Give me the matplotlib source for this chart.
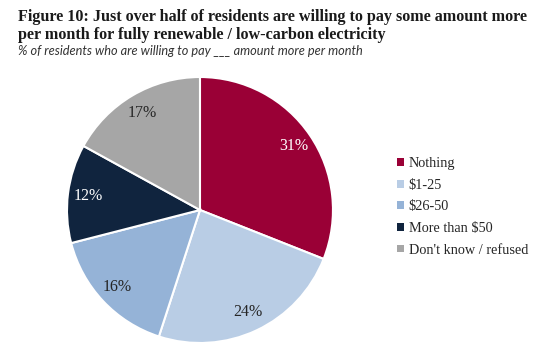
import matplotlib
matplotlib.use("Agg")
import matplotlib.pyplot as plt

labels = ["Nothing", "$1-25", "$26-50", "More than $50", "Don't know / refused"]
values = [31, 24, 16, 12, 17]
colors = ["#9A0036", "#B9CDE5", "#95B3D7", "#10243E", "#A6A6A6"]
label_colors = ["white", "#262626", "#262626", "white", "#262626"]

fig = plt.figure(figsize=(5.5, 3.5), dpi=100)

# titles
fig.text(0.033, 0.975, "Figure 10: Just over half of residents are willing to pay some amount more\n"
         "per month for fully renewable / low-carbon electricity",
         family="Liberation Serif", weight="bold", fontsize=11.6, color="#1a1a1a",
         va="top", ha="left", linespacing=1.2)
fig.text(0.033, 0.872, "% of residents who are willing to pay ___ amount more per month",
         family="Lato", style="italic", fontsize=9.2, color="#333333",
         va="top", ha="left")

ax = fig.add_axes([0.1218, 0.02, 0.4836, 0.76])
wedges, texts, autotexts = ax.pie(values, colors=colors, startangle=90, counterclock=False,
                                  autopct="%d%%", pctdistance=0.85,
                                  wedgeprops=dict(edgecolor="white", linewidth=1.5),
                                  textprops=dict(family="Liberation Serif", fontsize=11.5))
for t, c in zip(autotexts, label_colors):
    t.set_color(c)
ax.set_xlim(-1, 1)
ax.set_ylim(-1, 1)

leg = fig.legend(wedges, labels, loc="upper left", bbox_to_anchor=(0.712, 0.567),
                 frameon=False, prop=dict(family="Liberation Serif", size=10.3),
                 handlelength=0.45, handleheight=0.45, handletextpad=0.35,
                 labelspacing=0.6, borderaxespad=0)
for h in leg.legend_handles:
    h.set_edgecolor("none")
for t in leg.get_texts():
    t.set_color("#262626")

fig.savefig("out.png", dpi=100)
